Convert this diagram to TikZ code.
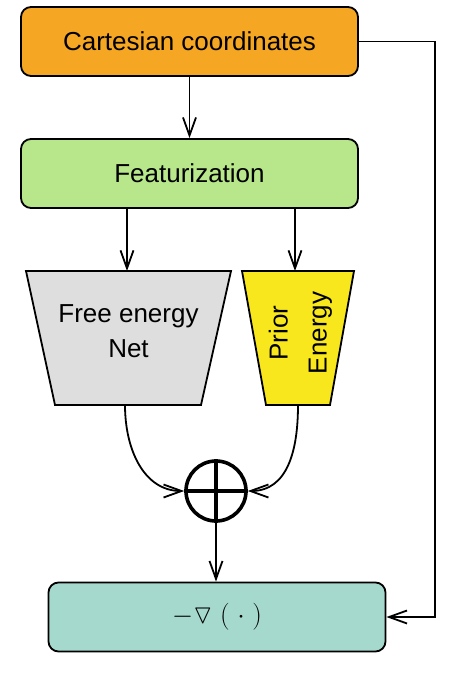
\documentclass[tikz,border=0pt]{standalone}
\usepackage{fix-cm}
\usepackage{amssymb}
\usepackage{amsmath}
\usepackage[no-math]{fontspec}
\setmainfont{Liberation Sans}
\usepackage{tikz}
\usetikzlibrary{arrows.meta}

\definecolor{cartorange}{HTML}{F5A623}
\definecolor{featgreen}{HTML}{B8E68A}
\definecolor{netgray}{HTML}{DEDEDE}
\definecolor{prioryellow}{HTML}{F8E71C}
\definecolor{gradteal}{HTML}{A6D9CD}

\begin{document}
\begin{tikzpicture}[x=1pt, y=-1pt, >={Straight Barb[length=18pt,width=13pt]}, line width=1.8pt, node distance=132pt,
    box/.style={draw, rounded corners=10pt, minimum width=337pt, minimum height=69pt, font=\fontsize{26}{31}\selectfont},
    trap/.style={draw},
    label/.style={align=center, inner sep=0pt, font=\fontsize{26}{35}\selectfont}]

        \useasboundingbox (0,0) rectangle (456,678);

        \node[box, fill=cartorange]     (C) at (189.5,41.5)  {Cartesian coordinates};
        \node[box, fill=featgreen]      (F) [below of=C]     {Featurization};

        % the two trapezia
        \draw[trap, fill=netgray]     (26,271) -- (231,271) -- (201,405) -- (55,405) -- cycle;
        \draw[trap, fill=prioryellow] (242,271) -- (354,271) -- (330,405) -- (266,405) -- cycle;
        \coordinate (Ntop) at (127,271);
        \coordinate (Nbot) at (125,405);
        \coordinate (Ptop) at (295,271);
        \coordinate (Pbot) at (298,405);

        \node[label]                                                     (N) at (128.5,331) {Free energy\\Net};
        \node[label, rotate=90, font=\fontsize{26}{39}\selectfont]       (P) at (300.5,333) {Prior\\Energy};
        \node[circle, draw, line width=3.6pt, minimum size=60pt, inner sep=0pt]   (S) at (216,491)   {};
        \node[box, fill=gradteal, font=\fontsize{27}{32}\selectfont]     (G) at (217,617)   {$-\triangledown\;(\;\cdot\;)$};

        \draw[line width=3.6pt] (S.north) -- (S.south) (S.west) -- (S.east);

        \draw[->] (C.south) -- (F.north);
        \draw[->] (Ntop |- F.south) -- (Ntop);
        \draw[->] (Ptop |- F.south) -- (Ptop);
        \draw[->] (Nbot) .. controls +(0,45) and +(-40,0) .. (S.west);
        \draw[->] (Pbot) .. controls +(0,45) and +(40,0) .. (S.east);
        \draw[->] (S.south) -- (S.south |- G.north);
        \draw[->] (C.east) -- ++(76,0) |- (G.east);

\end{tikzpicture}
\end{document}
